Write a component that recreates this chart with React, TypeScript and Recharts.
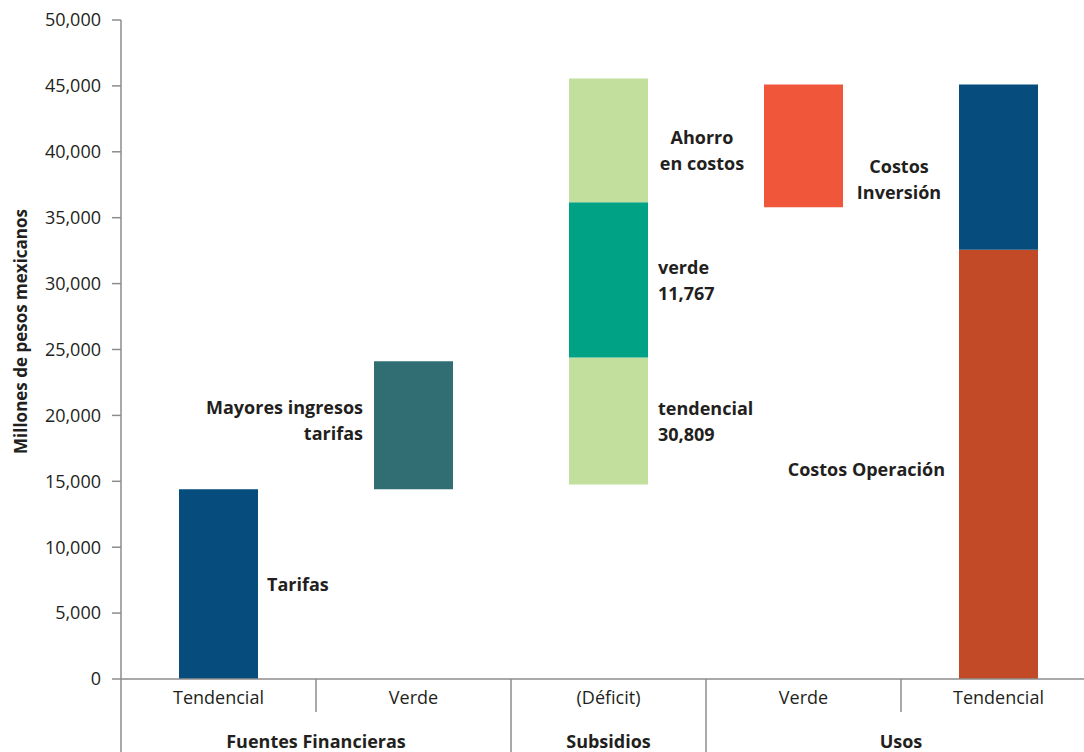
import React from 'react';
import { BarChart, Bar, XAxis, YAxis, Cell, LabelList } from 'recharts';

// categories and groups along the x axis
const categories = ['Tendencial', 'Verde', '(Déficit)', 'Verde', 'Tendencial'];
const groups = [
  { name: 'Fuentes Financieras', from: 0, to: 1 },
  { name: 'Subsidios', from: 2, to: 2 },
  { name: 'Usos', from: 3, to: 4 },
];

// stacked values (millones de pesos): invisible base + up to three visible segments
const baseValues = [0, 14400, 14750, 35800, 0];
const seg1Values = [14400, 9700, 9650, 9300, 32570];
const seg2Values = [0, 0, 11767, 0, 12530];
const seg3Values = [0, 0, 9392, 0, 0];

const seg1Labels = ['Tarifas', 'Mayores ingresos\ntarifas', 'tendencial\n30,809', '', 'Costos Operación'];
const seg2Labels = ['', '', 'verde\n11,767', '', 'Costos\nInversión'];
const seg3Labels = ['', '', 'Ahorro\nen costos', '', ''];

const yTicks = [0, 5000, 10000, 15000, 20000, 25000, 30000, 35000, 40000, 45000, 50000];

// colours
const seg1Colors = ['#064d7e', '#316e73', '#c2df9e', '#ef563a', '#c24a27'];
const seg2Colors = ['#064d7e', '#064d7e', '#00a286', '#064d7e', '#064d7e'];
const seg3Colors = ['#c2df9e', '#c2df9e', '#c2df9e', '#c2df9e', '#c2df9e'];

// where each label sits relative to its segment
type Place = { edge: 'left' | 'right'; anchor: 'start' | 'middle' | 'end'; dx: number; dy: number };
const labelPlaces: Record<string, Place> = {
  Tarifas: { edge: 'right', anchor: 'start', dx: 9, dy: 0 },
  'Mayores ingresos\ntarifas': { edge: 'left', anchor: 'end', dx: -11, dy: -5 },
  'tendencial\n30,809': { edge: 'right', anchor: 'start', dx: 10, dy: 0 },
  'verde\n11,767': { edge: 'right', anchor: 'start', dx: 10, dy: 0 },
  'Ahorro\nen costos': { edge: 'right', anchor: 'middle', dx: 54, dy: 10 },
  'Costos Operación': { edge: 'left', anchor: 'end', dx: -14, dy: 5 },
  'Costos\nInversión': { edge: 'left', anchor: 'middle', dx: -60, dy: 12 },
};

const data = categories.map((name, i) => ({
  name,
  base: baseValues[i],
  s1: seg1Values[i],
  s2: seg2Values[i],
  s3: seg3Values[i],
  l1: seg1Labels[i],
  l2: seg2Labels[i],
  l3: seg3Labels[i],
}));

const W = 1100;
const H = 752;
const margin = { top: 20, right: 4, bottom: 0, left: 51 };
const Y_AXIS_W = 70;
const X_AXIS_H = 73;
const band = (W - margin.left - Y_AXIS_W - margin.right) / categories.length;

const FONT = '"Open Sans", "Noto Sans", sans-serif';
const TEXT = '#231f20';
const LINE = '#8c8c8c';

const SegmentLabel = (props: any) => {
  const { x, y, width, height, value } = props;
  if (!value) return null;
  const p = labelPlaces[value];
  if (!p) return null;
  const lines = String(value).split('\n');
  const lh = 26;
  const tx = (p.edge === 'right' ? x + width : x) + p.dx;
  const cy = y + height / 2 + p.dy;
  const y0 = cy - ((lines.length - 1) * lh) / 2;
  return (
    <text
      x={tx}
      y={y0}
      textAnchor={p.anchor}
      dominantBaseline="central"
      fontFamily={FONT}
      fontWeight={700}
      fontSize={18}
      fill={TEXT}
    >
      {lines.map((ln, k) => (
        <tspan key={k} x={tx} y={y0 + k * lh} dominantBaseline="central">
          {ln}
        </tspan>
      ))}
    </text>
  );
};

const CategoryTick = (props: any) => {
  const { x, y, payload, index } = props;
  const left = x - band / 2;
  const group = groups.find((g) => g.from === index);
  const isGroupStart = !!group;
  const lastGroup = groups[groups.length - 1];
  return (
    <g>
      <line
        x1={left}
        x2={left}
        y1={y}
        y2={isGroupStart ? y + 80 : y + 33}
        stroke={LINE}
        strokeWidth={1.5}
      />
      <text
        x={x}
        y={y + 18}
        textAnchor="middle"
        dominantBaseline="central"
        fontFamily={FONT}
        fontSize={18}
        fill={TEXT}
      >
        {payload.value}
      </text>
      {group && (
        <text
          x={x + ((group.to - group.from) * band) / 2}
          y={y + 62}
          textAnchor="middle"
          dominantBaseline="central"
          fontFamily={FONT}
          fontWeight={700}
          fontSize={18}
          fill={TEXT}
        >
          {group.name}
        </text>
      )}
      {index === lastGroup.to && (
        <line x1={x + band / 2} x2={x + band / 2} y1={y} y2={y + 80} stroke={LINE} strokeWidth={1.5} />
      )}
    </g>
  );
};

const YTitle = (props: any) => {
  const { viewBox } = props;
  const cx = viewBox.x - 31;
  const cy = viewBox.y + viewBox.height / 2 - 18;
  return (
    <text
      x={cx}
      y={cy}
      transform={`rotate(-90 ${cx} ${cy})`}
      textAnchor="middle"
      dominantBaseline="central"
      fontFamily={FONT}
      fontWeight={700}
      fontSize={17}
      fill={TEXT}
    >
      Millones de pesos mexicanos
    </text>
  );
};

export default function App() {
  return (
    <div
      style={{
        position: 'absolute',
        left: 0,
        top: 0,
        width: 1084,
        height: 752,
        overflow: 'hidden',
        background: '#fff',
      }}
    >
      <BarChart width={W} height={H} data={data} margin={margin}>
        <XAxis
          dataKey="name"
          height={X_AXIS_H}
          tickLine={false}
          tickSize={0}
          tickMargin={0}
          axisLine={{ stroke: LINE, strokeWidth: 1.5 }}
          tick={<CategoryTick />}
          interval={0}
        />
        <YAxis
          width={Y_AXIS_W}
          domain={[0, 50000]}
          ticks={yTicks}
          interval={0}
          tickSize={9}
          tickMargin={11}
          tickFormatter={(v: number) => v.toLocaleString('en-US')}
          axisLine={{ stroke: LINE, strokeWidth: 1.5 }}
          tickLine={{ stroke: LINE, strokeWidth: 1.5 }}
          tick={{ fontFamily: FONT, fontSize: 18, fill: TEXT }}
          label={<YTitle />}
        />
        <Bar dataKey="base" stackId="a" fill="transparent" barSize={79} isAnimationActive={false} />
        <Bar dataKey="s1" stackId="a" barSize={79} isAnimationActive={false}>
          {data.map((_, i) => (
            <Cell key={i} fill={seg1Colors[i]} />
          ))}
          <LabelList dataKey="l1" content={<SegmentLabel />} />
        </Bar>
        <Bar dataKey="s2" stackId="a" barSize={79} isAnimationActive={false}>
          {data.map((_, i) => (
            <Cell key={i} fill={seg2Colors[i]} />
          ))}
          <LabelList dataKey="l2" content={<SegmentLabel />} />
        </Bar>
        <Bar dataKey="s3" stackId="a" barSize={79} isAnimationActive={false}>
          {data.map((_, i) => (
            <Cell key={i} fill={seg3Colors[i]} />
          ))}
          <LabelList dataKey="l3" content={<SegmentLabel />} />
        </Bar>
      </BarChart>
    </div>
  );
}
